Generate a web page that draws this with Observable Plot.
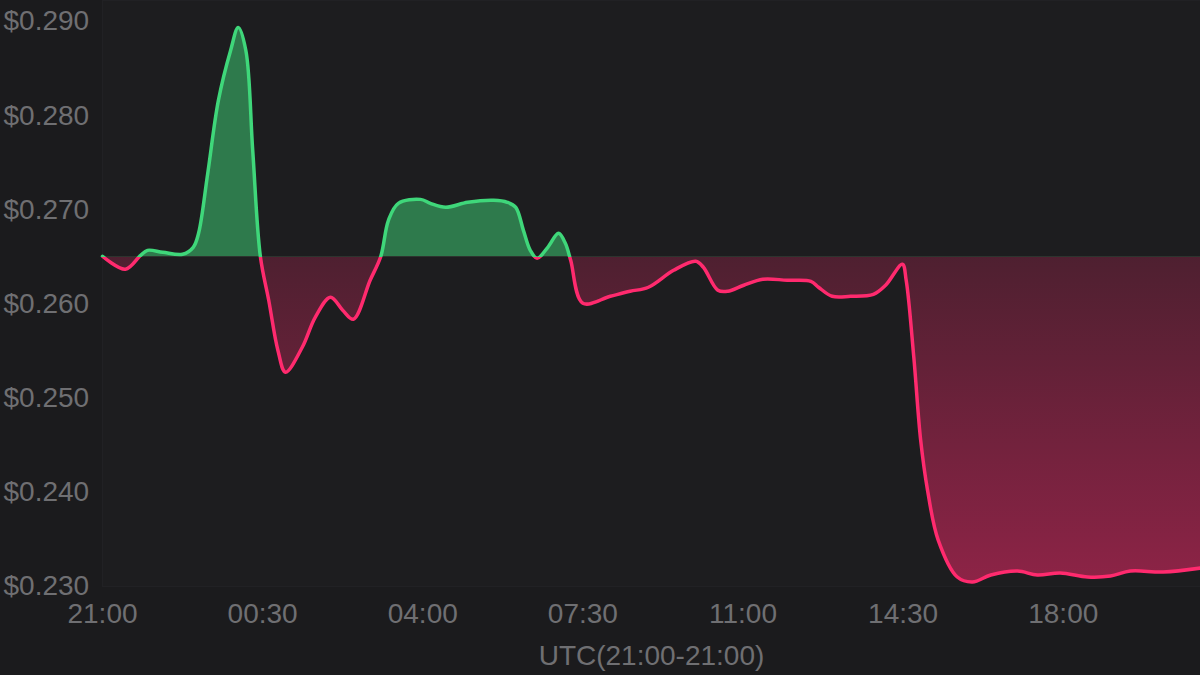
<!DOCTYPE html>
<html>
<head>
<meta charset="utf-8">
<script src="https://cdn.jsdelivr.net/npm/d3@7"></script>
<script src="https://cdn.jsdelivr.net/npm/@observablehq/plot@0.6"></script>
<style>
  html, body { margin: 0; padding: 0; background: #1b1b1d; }
  #chart { width: 1200px; height: 675px; }
</style>
</head>
<body>
<div id="chart"></div>
<script>
// minutes since 21:00 UTC
const minutes = [0, 30, 50, 59, 79, 105, 119, 126, 138, 152, 168, 178, 188, 197, 207, 218, 230, 240, 262, 279, 299, 315, 329, 351, 365, 375, 388, 417, 430, 450, 479, 513, 531, 542, 552, 561, 570, 584, 598, 607, 614, 630, 666, 692, 716, 749, 778, 788, 807, 820, 841, 866, 898, 929, 939, 957, 981, 1011, 1027, 1049, 1054, 1064, 1073, 1082, 1096, 1121, 1141, 1165, 1200, 1226, 1256, 1292, 1322, 1348, 1391, 1440];
const prices = [0.26507, 0.26369, 0.26517, 0.26570, 0.26549, 0.26528, 0.26602, 0.26751, 0.27387, 0.28162, 0.28692, 0.28936, 0.28692, 0.27631, 0.26507, 0.26040, 0.25509, 0.25276, 0.25541, 0.25859, 0.26072, 0.25934, 0.25838, 0.26252, 0.26507, 0.26889, 0.27069, 0.27111, 0.27069, 0.27027, 0.27080, 0.27101, 0.27080, 0.27027, 0.26782, 0.26570, 0.26485, 0.26602, 0.26751, 0.26645, 0.26464, 0.26008, 0.26082, 0.26135, 0.26178, 0.26358, 0.26454, 0.26390, 0.26146, 0.26135, 0.26199, 0.26263, 0.26252, 0.26241, 0.26178, 0.26082, 0.26082, 0.26103, 0.26199, 0.26422, 0.26252, 0.25435, 0.24554, 0.24024, 0.23493, 0.23101, 0.23048, 0.23122, 0.23164, 0.23122, 0.23143, 0.23101, 0.23111, 0.23164, 0.23154, 0.23196];
const baseline = 0.265;
const yTicks = [0.230, 0.240, 0.250, 0.260, 0.270, 0.280, 0.290];
const xTickLabels = ["21:00", "00:30", "04:00", "07:30", "11:00", "14:30", "18:00"];
const axisTitle = "UTC(21:00-21:00)";

const start = new Date(Date.UTC(2024, 0, 1, 21, 0));
const toDate = m => new Date(start.getTime() + m * 60000);
const data = minutes.map((m, i) => ({t: toDate(m), p: prices[i]}));
const xTicks = xTickLabels.map(s => {
  const [h, mm] = s.split(":").map(Number);
  let m = (h * 60 + mm) - 21 * 60;
  if (m < 0) m += 1440;
  return toDate(m);
});

const green = "#3fd77a";
const red = "#ff2a6e";
const fontSize = 28;
const textColor = "#6f6f72";

const plot = Plot.plot({
  width: 1200,
  height: 675,
  marginLeft: 102,
  marginRight: 0,
  marginTop: 0,
  marginBottom: 89,
  style: {background: "#1b1b1d", color: textColor, fontFamily: "'Liberation Sans', Arial, sans-serif", fontSize: fontSize + "px"},
  x: {type: "utc", domain: [toDate(0), toDate(1440)]},
  y: {domain: [0.230, 0.29223]},
  marks: [
    Plot.frame({fill: "#1d1d1f", stroke: "#212124"}),
    Plot.areaY(data, {x: "t", y1: baseline, y2: "p", curve: "catmull-rom", fill: green, fillOpacity: 0.5}),
    Plot.areaY(data, {x: "t", y1: baseline, y2: "p", curve: "catmull-rom", fill: red}),
    Plot.lineY(data, {x: "t", y: "p", curve: "catmull-rom", stroke: green, strokeWidth: 3.5}),
    Plot.lineY(data, {x: "t", y: "p", curve: "catmull-rom", stroke: red, strokeWidth: 3.5}),
    Plot.axisX({ticks: xTicks, tickFormat: (d, i) => xTickLabels[i], tickSize: 0, tickPadding: 17, fontSize, label: null}),
    Plot.axisY({ticks: yTicks, tickFormat: d => "$" + d.toFixed(3), tickSize: 0, tickPadding: 0, textAnchor: "start", dx: -99, fontSize, label: null}),
    Plot.text([axisTitle], {frameAnchor: "bottom", text: d => d, dy: 70, lineAnchor: "middle", fontSize, fill: textColor})
  ]
});

// clip areas/lines above & below baseline and apply gradient
const svg = d3.select(plot);
const yS = plot.scale("y");
const by = yS.apply(baseline);
const H = yS.apply(0.230);
const defs = svg.insert("defs", ":first-child");
defs.append("clipPath").attr("id", "clipAbove").append("rect")
  .attr("x", 0).attr("y", -10).attr("width", 1200).attr("height", by + 10);
defs.append("clipPath").attr("id", "clipBelow").append("rect")
  .attr("x", 0).attr("y", by).attr("width", 1200).attr("height", 675 - by);
const grad = defs.append("linearGradient").attr("id", "redGrad")
  .attr("gradientUnits", "userSpaceOnUse").attr("x1", 0).attr("x2", 0).attr("y1", 0).attr("y2", H);
grad.append("stop").attr("offset", "0%").attr("stop-color", red).attr("stop-opacity", 0);
grad.append("stop").attr("offset", "100%").attr("stop-color", red).attr("stop-opacity", 0.5);

const areas = svg.selectAll("g[aria-label='area']").nodes();
const lines = svg.selectAll("g[aria-label='line']").nodes();
d3.select(areas[0]).attr("clip-path", "url(#clipAbove)");
d3.select(areas[1]).attr("clip-path", "url(#clipBelow)");
d3.select(areas[1]).selectAll("path").attr("fill", "url(#redGrad)");
d3.select(lines[0]).attr("clip-path", "url(#clipAbove)");
d3.select(lines[1]).attr("clip-path", "url(#clipBelow)");

document.getElementById("chart").appendChild(plot);
</script>
</body>
</html>
